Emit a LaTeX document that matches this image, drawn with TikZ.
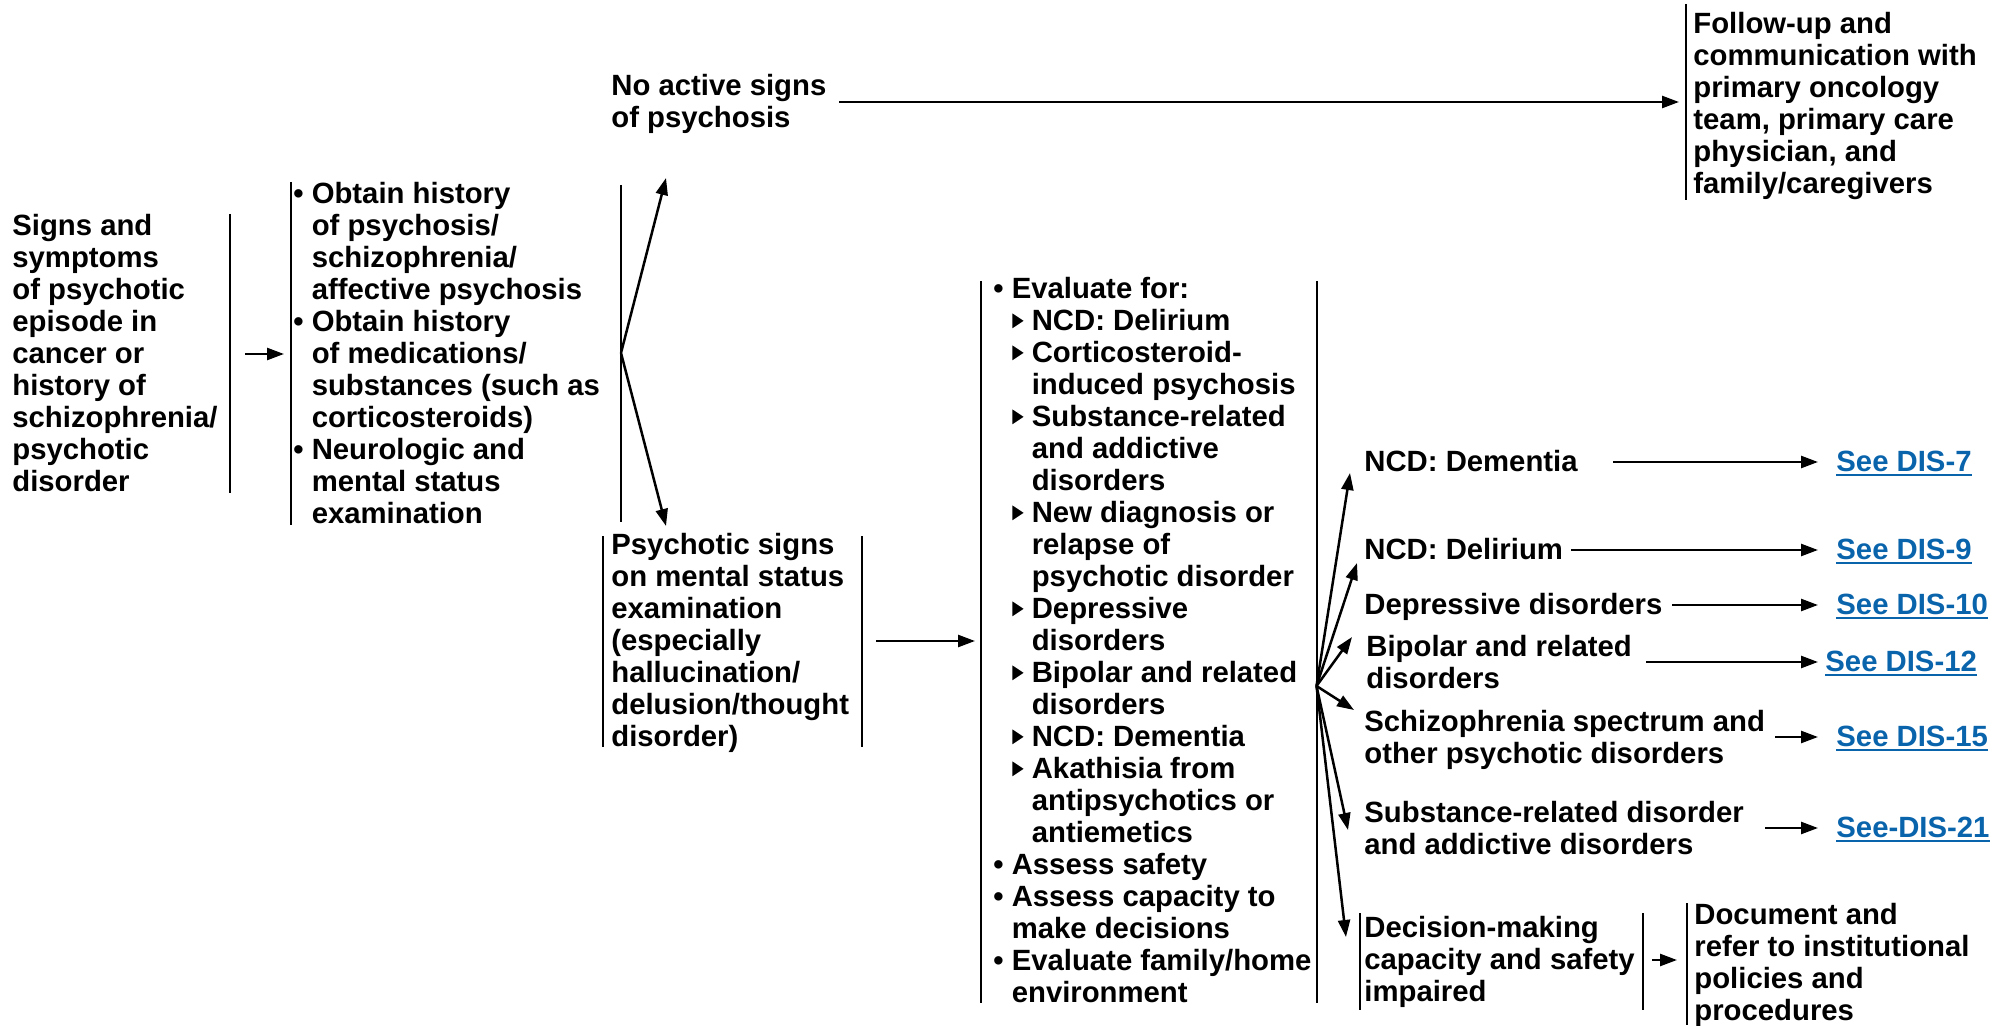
\documentclass[tikz,border=0pt]{standalone}
\usepackage{fontspec}
\setmainfont{Liberation Sans}
\usetikzlibrary{arrows.meta}
\definecolor{linkblue}{RGB}{10,100,172}
\newcommand\topstrut{\rule{0pt}{13.5pt}}
\newcommand\botstrut{\rule[-3.66pt]{0pt}{3.66pt}}
\newcommand\ind{\hphantom{• }}
\newcommand\tri{\makebox[10pt][l]{\hspace{0.3pt}\tikz[baseline=0pt,x=1pt,y=1pt]\fill (0,1.3) -- (0,8.7) -- (5.6,5) -- cycle;}}
\newcommand\lnk[1]{\setbox0\hbox{#1}\rlap{\rule[-2.2pt]{\wd0}{1pt}}\box0}
\begin{document}
\begin{tikzpicture}[x=0.5pt,y=-0.5pt,
  txt/.style={inner sep=0pt, anchor=west, align=left,
    font=\bfseries\fontsize{14.65pt}{16pt}\selectfont,
    execute at begin node=\topstrut, execute at end node=\botstrut},
  link/.style={txt, text=linkblue},
  rulel/.style={line width=1pt},
  arr/.style={line width=1.25pt, -{Triangle[length=8.5pt,width=6pt]}}]
\useasboundingbox (0,0) rectangle (2003,1026);
% nodes
\node[txt] (A) at (12,354) {\topstrut Signs and\\symptoms\\of psychotic\\episode in\\cancer or\\history of\\schizophrenia/\\psychotic\\disorder};
\node[txt] (B) at (293,354) {\topstrut • Obtain history\\\ind of psychosis/\\\ind schizophrenia/\\\ind affective psychosis\\• Obtain history\\\ind of medications/\\\ind substances (such as\\\ind corticosteroids)\\• Neurologic and\\\ind mental status\\\ind examination};
\node[txt] (noact) at (611,102) {\topstrut No active signs\\of psychosis};
\node[txt] (fol) at (1693,103.5) {\topstrut Follow-up and\\communication with\\primary oncology\\team, primary care\\physician, and\\family/caregivers};
\node[txt] (psy) at (611,641) {\topstrut Psychotic signs\\on mental status\\examination\\(especially\\hallucination/\\delusion/thought\\disorder)};
\node[txt] (eval) at (993,641) {\topstrut • Evaluate for:\\\ind\tri NCD: Delirium\\\ind\tri Corticosteroid-\\\ind\hphantom{\tri}induced psychosis\\\ind\tri Substance-related\\\ind\hphantom{\tri}and addictive\\\ind\hphantom{\tri}disorders\\\ind\tri New diagnosis or\\\ind\hphantom{\tri}relapse of\\\ind\hphantom{\tri}psychotic disorder\\\ind\tri Depressive\\\ind\hphantom{\tri}disorders\\\ind\tri Bipolar and related\\\ind\hphantom{\tri}disorders\\\ind\tri NCD: Dementia\\\ind\tri Akathisia from\\\ind\hphantom{\tri}antipsychotics or\\\ind\hphantom{\tri}antiemetics\\• Assess safety\\• Assess capacity to\\\ind make decisions\\• Evaluate family/home\\\ind environment};
\node[txt] (dem) at (1364,462) {NCD: Dementia};
\node[txt] (del) at (1364,550) {NCD: Delirium};
\node[txt] (dep) at (1364,605) {Depressive disorders};
\node[txt] (bip) at (1366,662.5) {\topstrut Bipolar and related\\disorders};
\node[txt] (sch) at (1364,737.5) {\topstrut Schizophrenia spectrum and\\other psychotic disorders};
\node[txt] (sub) at (1364,829) {\topstrut Substance-related disorder\\and addictive disorders};
\node[txt] (dec) at (1364,960) {\topstrut Decision-making\\capacity and safety\\impaired};
\node[txt] (doc) at (1694,962.5) {\topstrut Document and\\refer to institutional\\policies and\\procedures};
\node[link] (l7) at (1836,462) {\lnk{See DIS-7}};
\node[link] (l9) at (1836,550) {\lnk{See DIS-9}};
\node[link] (l10) at (1836,605) {\lnk{See DIS-10}};
\node[link] (l12) at (1825,662) {\lnk{See DIS-12}};
\node[link] (l15) at (1836,737) {\lnk{See DIS-15}};
\node[link] (l21) at (1836,828) {\lnk{See-DIS-21}};
% rules
\draw[rulel] (230,214) -- (230,493);
\draw[rulel] (291,182) -- (291,525);
\draw[rulel] (621,185) -- (621,522);
\draw[rulel] (1686,4) -- (1686,200);
\draw[rulel] (603,536) -- (603,747);
\draw[rulel] (862,536) -- (862,747);
\draw[rulel] (981,281) -- (981,1003);
\draw[rulel] (1316.5,281) -- (1316.5,1003);
\draw[rulel] (1360,913) -- (1360,1010);
\draw[rulel] (1643,913) -- (1643,1010);
\draw[rulel] (1686.5,903) -- (1686.5,1025);
% branch points and tips
\coordinate (brB) at (621,353);
\coordinate (brE) at (1316.5,686);
\coordinate (tNo) at (666,178);
\coordinate (tPs) at (666,526);
\coordinate (tDem) at (1350,473);
\coordinate (tDel) at (1357,563);
\coordinate (tBip) at (1352,637);
\coordinate (tSch) at (1354,710);
\coordinate (tSub) at (1348,830);
\coordinate (tDec) at (1346,937);
% connectors
\draw[arr] (245,0 |- A.west) -- (284,0 |- A.west);
\draw[arr] (brB) -- (tNo);
\draw[arr] (brB) -- (tPs);
\draw[arr] (839,0 |- noact.east) -- (1679,0 |- noact.east);
\draw[arr] (876,0 |- psy.east) -- (975,0 |- psy.east);
\foreach \t in {tDem,tDel,tBip,tSch,tSub,tDec} \draw[arr] (brE) -- (\t);
\draw[arr] (1613,0 |- dem.east) -- ([xshift=-9pt]l7.west);
\draw[arr] (1571,0 |- del.east) -- ([xshift=-9pt]l9.west);
\draw[arr] (1672,0 |- dep.east) -- ([xshift=-9pt]l10.west);
\draw[arr] (1646,0 |- l12.west) -- ([xshift=-3.5pt]l12.west);
\draw[arr] (1775,0 |- l15.west) -- ([xshift=-9pt]l15.west);
\draw[arr] (1765,0 |- l21.west) -- ([xshift=-9pt]l21.west);
\draw[arr] (1652,0 |- dec.east) -- (1677,0 |- dec.east);
\end{tikzpicture}
\end{document}
